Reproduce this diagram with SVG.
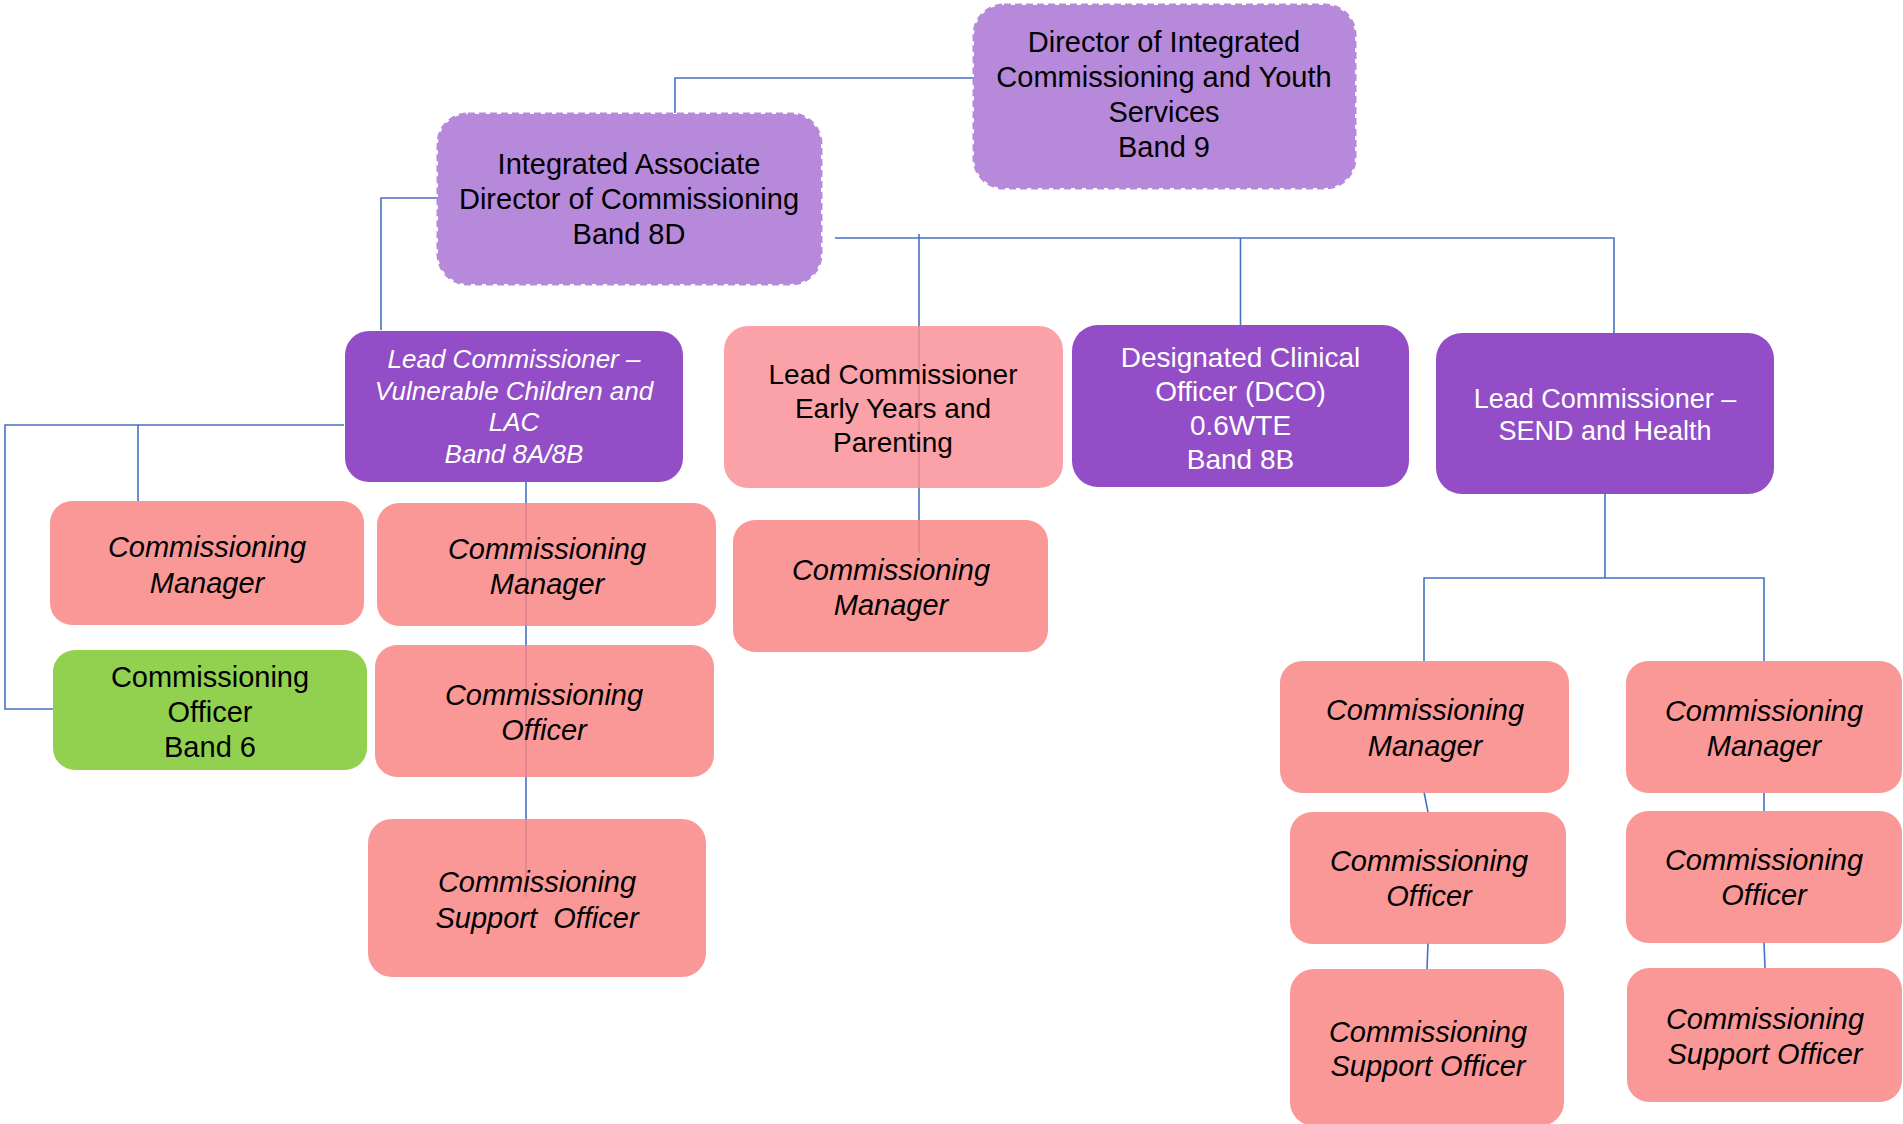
<svg xmlns="http://www.w3.org/2000/svg" width="1903" height="1124" viewBox="0 0 1903 1124">
<style>
text{font-family:"Liberation Sans",Arial,sans-serif;font-size:29px;text-anchor:middle;fill:#000}
.it{font-style:italic}
.w{fill:#fff}
.lav{fill:#B789DB;stroke:#B789DB;stroke-width:3;stroke-dasharray:7 4}
.pur{fill:#924DC7}
.pink{fill:#F98686;fill-opacity:0.85}
.pink2{fill:#FA9299;fill-opacity:0.85}
.grn{fill:#92D050}
.conn path{fill:none;stroke:#4472C4;stroke-width:1.6}
</style>
<rect width="1903" height="1124" fill="#fff"/>
<g class="conn" id="connectors">
<path d="M974 78H675V113"/>
<path d="M438 198H381V330"/>
<path d="M835 238H1614V333"/>
<path d="M1240.5 238V325"/>
<path d="M919 234V553"/>
<path d="M344 425H5V709H53"/>
<path d="M138 425V501"/>
<path d="M526 482V897"/>
<path d="M1605 494V578"/>
<path d="M1424 661V578H1764V661"/>
<path d="M1424 792L1428 812"/>
<path d="M1428 943L1427 969"/>
<path d="M1764 793V811"/>
<path d="M1764 942L1765 968"/>
</g>
<g id="director">
<rect class="lav" x="974" y="5" width="381" height="183" rx="30"/>
<text x="1164" y="52">Director of Integrated</text>
<text x="1164" y="87">Commissioning and Youth</text>
<text x="1164" y="122">Services</text>
<text x="1164" y="157">Band 9</text>
</g>
<g id="associate-director">
<rect class="lav" x="438" y="114" width="383" height="170" rx="30"/>
<text x="629" y="174">Integrated Associate</text>
<text x="629" y="209">Director of Commissioning</text>
<text x="629" y="244">Band 8D</text>
</g>
<g id="lead-vc">
<rect class="pur" x="345" y="331" width="338" height="151" rx="24"/>
<text class="it w" style="font-size:26px" x="514" y="368">Lead Commissioner –</text>
<text class="it w" style="font-size:26px" x="514" y="400">Vulnerable Children and</text>
<text class="it w" style="font-size:26px" x="514" y="431">LAC</text>
<text class="it w" style="font-size:26px" x="514" y="463">Band 8A/8B</text>
</g>
<g id="lead-early-years">
<rect class="pink2" x="724" y="326" width="339" height="162" rx="24"/>
<text style="font-size:28px" x="893" y="384">Lead Commissioner</text>
<text style="font-size:28px" x="893" y="418">Early Years and</text>
<text style="font-size:28px" x="893" y="452">Parenting</text>
</g>
<g id="dco">
<rect class="pur" x="1072" y="325" width="337" height="162" rx="26"/>
<text class="w" style="font-size:28px" x="1240.5" y="367">Designated Clinical</text>
<text class="w" style="font-size:28px" x="1240.5" y="401">Officer (DCO)</text>
<text class="w" style="font-size:28px" x="1240.5" y="435">0.6WTE</text>
<text class="w" style="font-size:28px" x="1240.5" y="469">Band 8B</text>
</g>
<g id="lead-send">
<rect class="pur" x="1436" y="333" width="338" height="161" rx="26"/>
<text class="w" style="font-size:27px" x="1605" y="408">Lead Commissioner –</text>
<text class="w" style="font-size:27px" x="1605" y="440">SEND and Health</text>
</g>
<g id="vc-manager-1">
<rect class="pink" x="50" y="501" width="314" height="124" rx="22"/>
<text class="it" x="207" y="557">Commissioning</text>
<text class="it" x="207" y="593">Manager</text>
</g>
<g id="vc-officer-band6">
<rect class="grn" x="53" y="650" width="314" height="120" rx="22"/>
<text x="210" y="687">Commissioning</text>
<text x="210" y="722">Officer</text>
<text x="210" y="757">Band 6</text>
</g>
<g id="vc-manager-2">
<rect class="pink" x="377" y="503" width="339" height="123" rx="22"/>
<text class="it" x="547" y="559">Commissioning</text>
<text class="it" x="547" y="594">Manager</text>
</g>
<g id="vc-officer">
<rect class="pink" x="375" y="645" width="339" height="132" rx="22"/>
<text class="it" x="544" y="705">Commissioning</text>
<text class="it" x="544" y="740">Officer</text>
</g>
<g id="vc-support-officer">
<rect class="pink" x="368" y="819" width="338" height="158" rx="24"/>
<text class="it" x="537" y="892">Commissioning</text>
<text class="it" x="537" y="928" xml:space="preserve">Support  Officer</text>
</g>
<g id="ey-manager">
<rect class="pink" x="733" y="520" width="315" height="132" rx="22"/>
<text class="it" x="891" y="580">Commissioning</text>
<text class="it" x="891" y="615">Manager</text>
</g>
<g id="send-manager-1">
<rect class="pink" x="1280" y="661" width="289" height="132" rx="22"/>
<text class="it" x="1425" y="720">Commissioning</text>
<text class="it" x="1425" y="756">Manager</text>
</g>
<g id="send-officer-1">
<rect class="pink" x="1290" y="812" width="276" height="132" rx="22"/>
<text class="it" x="1429" y="871">Commissioning</text>
<text class="it" x="1429" y="906">Officer</text>
</g>
<g id="send-support-1">
<rect class="pink" x="1290" y="969" width="274" height="157" rx="24"/>
<text class="it" x="1428" y="1042">Commissioning</text>
<text class="it" x="1428" y="1076">Support Officer</text>
</g>
<g id="send-manager-2">
<rect class="pink" x="1626" y="661" width="276" height="132" rx="22"/>
<text class="it" x="1764" y="721">Commissioning</text>
<text class="it" x="1764" y="756">Manager</text>
</g>
<g id="send-officer-2">
<rect class="pink" x="1626" y="811" width="276" height="132" rx="22"/>
<text class="it" x="1764" y="870">Commissioning</text>
<text class="it" x="1764" y="905">Officer</text>
</g>
<g id="send-support-2">
<rect class="pink" x="1627" y="968" width="275" height="134" rx="22"/>
<text class="it" x="1765" y="1029">Commissioning</text>
<text class="it" x="1765" y="1064">Support Officer</text>
</g>
</svg>
